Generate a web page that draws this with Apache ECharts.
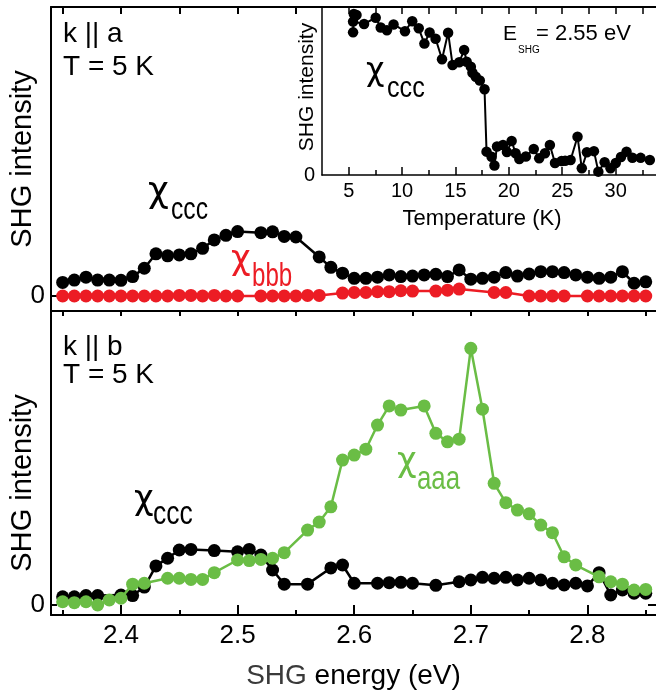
<!DOCTYPE html>
<html>
<head>
<meta charset="utf-8">
<script src="https://cdn.jsdelivr.net/npm/echarts@6/dist/echarts.min.js"></script>
<style>
  html, body { margin: 0; padding: 0; background: #fff; }
  #chart { width: 656px; height: 692px; }
</style>
</head>
<body>
<div id="chart"></div>
<script>
"use strict";
var FONT = 'Liberation Sans, Arial, Helvetica, sans-serif';
var CHI_FONT = 'DejaVu Sans, sans-serif';

// ---------------- ticks ----------------
var majorE = [2.4, 2.5, 2.6, 2.7, 2.8];
var minorE = [2.35, 2.45, 2.55, 2.65, 2.75, 2.85];
var allE = [2.35, 2.4, 2.45, 2.5, 2.55, 2.6, 2.65, 2.7, 2.75, 2.8, 2.85];
var topE = [2.35, 2.4, 2.45, 2.5, 2.55];
var majorT = [5, 10, 15, 20, 25, 30];
var minorT = [7.5, 12.5, 17.5, 22.5, 27.5, 32.5];
var allT = [5, 7.5, 10, 12.5, 15, 17.5, 20, 22.5, 25, 27.5, 30, 32.5];

// ---------------- data: k || a, chi_ccc (black) ----------------
var topCcc = [[2.35,0.047],[2.36,0.055],[2.37,0.065],[2.38,0.055],[2.39,0.055],[2.40,0.054],[2.41,0.067],
  [2.42,0.096],[2.43,0.146],[2.44,0.139],[2.45,0.142],[2.46,0.146],[2.47,0.165],[2.48,0.194],[2.49,0.210],
  [2.50,0.223],[2.52,0.219],[2.53,0.222],[2.54,0.206],[2.55,0.204],[2.57,0.135],[2.58,0.099],[2.59,0.079],
  [2.60,0.061],[2.61,0.061],[2.62,0.065],[2.63,0.073],[2.64,0.067],[2.65,0.069],[2.66,0.073],[2.67,0.075],
  [2.68,0.067],[2.69,0.090],[2.70,0.058],[2.71,0.061],[2.72,0.065],[2.73,0.081],[2.74,0.069],[2.75,0.076],
  [2.76,0.084],[2.77,0.084],[2.78,0.081],[2.79,0.073],[2.80,0.065],[2.81,0.061],[2.82,0.065],[2.83,0.084],
  [2.84,0.044],[2.85,0.049]];
// k || a, chi_bbb (red)
var topBbb = [[2.35,0],[2.36,0],[2.37,0],[2.38,0],[2.39,0],[2.40,0],[2.41,0],[2.42,0],[2.43,0],[2.44,0],
  [2.45,0.002],[2.46,0.002],[2.47,0],[2.48,0.002],[2.49,0],[2.50,0],[2.52,0],[2.53,0],[2.54,0],[2.55,0],
  [2.56,0.002],[2.57,0.002],[2.59,0.010],[2.60,0.012],[2.61,0.012],[2.62,0.015],[2.63,0.015],[2.64,0.018],
  [2.65,0.017],[2.67,0.017],[2.68,0.020],[2.69,0.024],[2.72,0.012],[2.73,0.012],[2.75,0],[2.76,0],
  [2.77,0],[2.78,0],[2.80,0],[2.81,0],[2.82,0],[2.83,0],[2.84,0],[2.85,0]];

// ---------------- data: k || b ----------------
var botCcc = [[2.35,0.028],[2.36,0.028],[2.37,0.032],[2.38,0.032],[2.40,0.034],[2.41,0.032],[2.42,0.061],
  [2.43,0.133],[2.44,0.159],[2.45,0.187],[2.46,0.189],[2.48,0.185],[2.50,0.181],[2.51,0.189],[2.52,0.170],
  [2.53,0.119],[2.54,0.071],[2.56,0.071],[2.58,0.126],[2.59,0.136],[2.60,0.074],[2.62,0.074],[2.63,0.076],
  [2.64,0.077],[2.65,0.074],[2.67,0.067],[2.69,0.079],[2.70,0.085],[2.71,0.094],[2.72,0.091],[2.73,0.094],
  [2.74,0.085],[2.75,0.091],[2.76,0.085],[2.77,0.074],[2.78,0.068],[2.79,0.074],[2.80,0.065],[2.81,0.110],
  [2.82,0.034],[2.83,0.051],[2.84,0.040],[2.85,0.040]];
var botAaa = [[2.35,0.011],[2.36,0.008],[2.37,0.011],[2.38,0.000],[2.39,0.017],[2.40,0.023],[2.41,0.071],
  [2.42,0.074],[2.44,0.091],[2.45,0.091],[2.46,0.087],[2.47,0.087],[2.48,0.110],[2.50,0.153],[2.51,0.151],
  [2.52,0.155],[2.53,0.159],[2.54,0.178],[2.56,0.255],[2.57,0.282],[2.58,0.334],[2.59,0.493],[2.60,0.510],
  [2.61,0.530],[2.62,0.612],[2.63,0.677],[2.64,0.663],[2.66,0.677],[2.67,0.584],[2.68,0.555],[2.69,0.564],
  [2.70,0.873],[2.71,0.666],[2.72,0.414],[2.73,0.348],[2.74,0.323],[2.75,0.310],[2.76,0.272],[2.77,0.246],
  [2.78,0.164],[2.79,0.136],[2.81,0.096],[2.82,0.079],[2.83,0.071],[2.84,0.051],[2.85,0.053]];

// ---------------- data: inset, temperature dependence at 2.55 eV ----------------
var tempCcc = [[5.41,0.849],[5.48,0.958],[5.73,0.952],[5.41,0.913],[6.44,0.899],[7.53,0.936],[8.0,0.878],
  [8.58,0.861],[9.2,0.896],[10.27,0.856],[10.95,0.915],[11.56,0.873],[12.09,0.782],[12.58,0.848],
  [13.14,0.811],[13.74,0.689],[14.31,0.847],[14.73,0.655],[15.35,0.671],[15.81,0.744],[16.05,0.674],
  [16.44,0.645],[16.59,0.609],[16.9,0.585],[17.28,0.563],[17.72,0.510],[17.91,0.139],[18.38,0.109],
  [18.65,0.057],[18.89,0.170],[19.45,0.179],[19.82,0.137],[20.26,0.202],[20.63,0.129],[20.98,0.095],
  [21.59,0.110],[22.33,0.155],[22.84,0.099],[23.38,0.129],[23.84,0.179],[24.32,0.071],[24.94,0.083],
  [25.27,0.085],[25.78,0.089],[26.43,0.228],[26.83,0.040],[27.31,0.135],[27.97,0.142],[28.38,0.020],
  [28.97,0.076],[29.52,0.040],[30.01,0.071],[30.5,0.107],[31.02,0.139],[31.57,0.103],[32.34,0.102],
  [33.2,0.089]];

var BLACK = '#000', RED = '#ec1c24', GREEN = '#6abd45';

function line(w) { return { show: true, onZero: false, lineStyle: { color: BLACK, width: w } }; }
function ticks(vals, len, w) {
  return { show: true, inside: true, length: len, customValues: vals, lineStyle: { color: BLACK, width: w } };
}
function xAx(grid, pos, min, max, axLine, axTick, axLabel, extra) {
  var a = { type: 'value', gridIndex: grid, position: pos, min: min, max: max,
    axisLine: axLine || { show: false, onZero: false }, axisTick: axTick || { show: false },
    axisLabel: axLabel || { show: false }, splitLine: { show: false } };
  for (var k in extra) a[k] = extra[k];
  return a;
}
function yAx(grid, pos, min, max, axLine, axTick, axLabel) {
  return { type: 'value', gridIndex: grid, position: pos, min: min, max: max,
    axisLine: axLine || { show: false, onZero: false }, axisTick: axTick || { show: false },
    axisLabel: axLabel || { show: false }, splitLine: { show: false } };
}
function zeroLabel(size, margin) {
  return { show: true, customValues: [0], fontSize: size, margin: margin, color: BLACK, fontFamily: FONT };
}
function ser(name, data, xi, yi, color, size, lw, z) {
  return { name: name, type: 'line', data: data, xAxisIndex: xi, yAxisIndex: yi, z: z,
    symbol: 'circle', symbolSize: size, showSymbol: true, clip: false,
    lineStyle: { color: color, width: lw }, itemStyle: { color: color, borderWidth: 0 },
    emphasis: { disabled: true } };
}
function txt(x, y, s, size, color, extra, font) {
  var t = { type: 'text', x: x, y: y, z: 50,
    style: { text: s, fontSize: size, fontFamily: font || FONT, fill: color, align: 'left', verticalAlign: 'middle' } };
  for (var k in extra) t[k] = extra[k];
  return t;
}
function vtxt(x, y, s, size) {
  return { type: 'text', x: x, y: y, z: 50, rotation: Math.PI / 2,
    style: { text: s, fontSize: size, fontFamily: FONT, fill: BLACK, align: 'center', verticalAlign: 'middle' } };
}
// greek chi, drawn in a font whose glyph has curved strokes and a descender
function chi(x, y, size, color) { return txt(x, y, '\u03c7', size, color, null, CHI_FONT); }

var eMin = 2.34, eMax = 2.8588, tMin = 2.5, tMax = 33.78;

var option = {
  animation: false,
  backgroundColor: '#fff',
  textStyle: { fontFamily: FONT, color: BLACK },
  grid: [
    { left: 51, top: 7, width: 607, height: 304 },
    { left: 51, top: 311, width: 607, height: 304 },
    { left: 322, top: 7, width: 336, height: 168 }
  ],
  xAxis: [
    xAx(0, 'bottom', eMin, eMax, line(2)),
    xAx(0, 'top', eMin, eMax, line(2), ticks(topE, 7, 2)),
    xAx(1, 'bottom', eMin, eMax, line(2), ticks(majorE, 10, 2),
      { show: true, customValues: majorE, fontSize: 26, margin: 8, color: BLACK, fontFamily: FONT },
      { name: '{g|SHG} energy (eV)', nameLocation: 'middle', nameGap: 47,
        nameTextStyle: { fontSize: 28, color: BLACK, fontFamily: FONT,
          rich: { g: { fontSize: 28, color: '#3a3a3a', fontFamily: FONT } } } }),
    xAx(1, 'bottom', eMin, eMax, null, ticks(minorE, 5, 2)),
    xAx(1, 'top', eMin, eMax, line(2), ticks(allE, 5, 2)),
    xAx(2, 'bottom', tMin, tMax, line(1.5), ticks(majorT, 8, 1.5),
      { show: true, customValues: majorT, fontSize: 20, margin: 6, color: BLACK, fontFamily: FONT },
      { name: 'Temperature (K)', nameLocation: 'middle', nameGap: 33,
        nameTextStyle: { fontSize: 22, color: BLACK, fontFamily: FONT, padding: [0, 14, 0, 0] } }),
    xAx(2, 'bottom', tMin, tMax, null, ticks(minorT, 5, 1.5)),
    xAx(2, 'top', tMin, tMax, line(1.5), ticks(allT, 7, 1.5))
  ],
  yAxis: [
    yAx(0, 'left', -0.052, 1, line(2), ticks([0], 6, 2), zeroLabel(26, 6)),
    yAx(1, 'left', -0.034, 1, line(2), ticks([0], 6, 2), zeroLabel(26, 6)),
    yAx(1, 'right', -0.034, 1, null, ticks([0], 8, 2)),
    yAx(2, 'left', 0, 1, line(1.5), null, zeroLabel(20, 7))
  ],
  series: [
    ser('chi_ccc (k||a)', topCcc, 0, 0, BLACK, 13, 2.5, 3),
    ser('chi_bbb (k||a)', topBbb, 0, 0, RED, 13, 2.5, 4),
    ser('chi_ccc (k||b)', botCcc, 2, 1, BLACK, 13, 2.5, 3),
    ser('chi_aaa (k||b)', botAaa, 2, 1, GREEN, 13, 2.5, 4),
    ser('chi_ccc (T)', tempCcc, 5, 3, BLACK, 10.5, 2, 3)
  ],
  graphic: [
    txt(63, 34, 'k || a', 28, BLACK),
    txt(63, 67, 'T = 5 K', 28, BLACK),
    txt(63, 347, 'k || b', 28, BLACK),
    txt(63, 375, 'T = 5 K', 28, BLACK),
    vtxt(23, 159, 'SHG intensity', 29),
    vtxt(23, 483, 'SHG intensity', 29),
    vtxt(307, 87, 'SHG intensity', 21),
    txt(503, 34, 'E', 21, BLACK),
    txt(518, 50, 'SHG', 10, BLACK),
    txt(536, 34, '= 2.55 eV', 22, BLACK),
    // chi labels
    chi(148, 193, 36, BLACK),
    txt(171, 210, 'ccc', 32, BLACK, { scaleX: 0.77 }),
    chi(231, 260, 34, RED),
    txt(252, 277, 'bbb', 33, RED, { scaleX: 0.73 }),
    chi(134, 500, 34, BLACK),
    txt(153, 515, 'ccc', 34, BLACK, { scaleX: 0.78 }),
    chi(397, 462, 34, GREEN),
    txt(417, 480, 'aaa', 34, GREEN, { scaleX: 0.76 }),
    chi(366, 72, 32, BLACK),
    txt(387, 89, 'ccc', 30, BLACK, { scaleX: 0.84 })
  ]
};

var chart = echarts.init(document.getElementById('chart'), null, { renderer: 'canvas' });
chart.setOption(option);
</script>
</body>
</html>
